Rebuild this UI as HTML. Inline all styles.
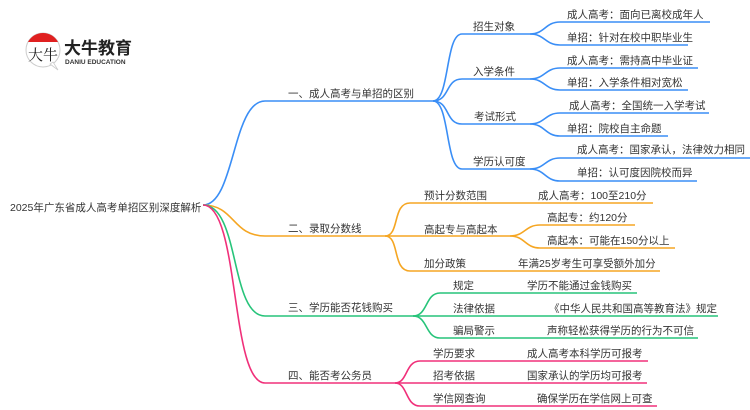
<!DOCTYPE html>
<html><head><meta charset="utf-8"><style>
html,body{margin:0;padding:0;background:#fff;width:750px;height:410px;overflow:hidden}
svg text{font-family:"Liberation Sans","Noto Sans CJK SC",sans-serif;font-size:10.5px;fill:#333}
</style></head><body>
<svg width="750" height="410" viewBox="0 0 750 410" xmlns="http://www.w3.org/2000/svg">
<!-- logo -->
<g>
<circle cx="43" cy="50" r="17" fill="#fff" stroke="#ccc" stroke-width="1"/>
<path d="M28 42 A17 17 0 0 1 58 42 Z" fill="#e02020"/>
<path d="M50 64 L58 70 L53 62 Z" fill="#fff" stroke="#ccc" stroke-width="0.8"/>
<text x="28" y="60" style="font-size:15px;fill:#222;font-family:'Noto Serif CJK SC',serif">大牛</text>
<text x="64" y="54" style="font-size:17px;font-weight:bold;fill:#222">大牛教育</text>
<text x="65" y="64" style="font-size:6.5px;fill:#333;font-weight:bold">DANIU EDUCATION</text>
</g>
<g fill="none" stroke-width="1.6">
<g stroke="#3a8ef6">
<path d="M203 205 C235 205 232 101 265 101 L433 101"/>
<path d="M433 101 C450 101 445 34 462 34 L530 34"/>
<path d="M433 101 C450 101 445 79 462 79 L530 79"/>
<path d="M433 101 C450 101 445 124 462 124 L530 124"/>
<path d="M433 101 C450 101 445 169 462 169 L530 169"/>
<path d="M530 34 C545 34 545 22 560 22 L710 22"/>
<path d="M530 34 C545 34 545 45 560 45 L688 45"/>
<path d="M530 79 C545 79 545 68 560 68 L698 68"/>
<path d="M530 79 C545 79 545 90 560 90 L688 90"/>
<path d="M530 124 C545 124 545 113 560 113 L709 113"/>
<path d="M530 124 C545 124 545 136 560 136 L668 136"/>
<path d="M530 169 C545 169 545 158 560 158 L750 158"/>
<path d="M530 169 C545 169 545 181 560 181 L697 181"/>
</g>
<g stroke="#f5a623">
<path d="M203 205 C235 205 232 236 265 236 L385 236"/>
<path d="M385 236 C400 236 392 203 410 203 L653 203"/>
<path d="M385 236 L510 236"/>
<path d="M385 236 C400 236 392 271 410 271 L660 271"/>
<path d="M510 236 C525 236 525 225 540 225 L635 225"/>
<path d="M510 236 C525 236 525 248 540 248 L675 248"/>
</g>
<g stroke="#27c47a">
<path d="M203 205 C240 205 230 316 265 316 L413 316"/>
<path d="M413 316 C428 316 425 293 440 293 L637 293"/>
<path d="M413 316 L718 316"/>
<path d="M413 316 C428 316 425 338 440 338 L698 338"/>
</g>
<g stroke="#f0307a">
<path d="M203 205 C240 205 230 383 265 383 L395 383"/>
<path d="M395 383 C408 383 405 361 420 361 L648 361"/>
<path d="M395 383 L647 383"/>
<path d="M395 383 C408 383 405 406 420 406 L657 406"/>
</g>
</g>
<text x="10" y="211">2025年广东省成人高考单招区别深度解析</text>
<text x="288" y="97">一、成人高考与单招的区别</text>
<text x="473" y="30">招生对象</text>
<text x="473" y="75">入学条件</text>
<text x="474" y="120">考试形式</text>
<text x="473" y="165">学历认可度</text>
<text x="567" y="18">成人高考：面向已离校成年人</text>
<text x="567" y="41">单招：针对在校中职毕业生</text>
<text x="567" y="64">成人高考：需持高中毕业证</text>
<text x="567" y="86">单招：入学条件相对宽松</text>
<text x="569" y="109">成人高考：全国统一入学考试</text>
<text x="567" y="132">单招：院校自主命题</text>
<text x="577" y="153">成人高考：国家承认，法律效力相同</text>
<text x="577" y="176">单招：认可度因院校而异</text>
<text x="288" y="232">二、录取分数线</text>
<text x="424" y="199">预计分数范围</text>
<text x="538" y="199">成人高考：100至210分</text>
<text x="424" y="233">高起专与高起本</text>
<text x="547" y="221">高起专：约120分</text>
<text x="547" y="244">高起本：可能在150分以上</text>
<text x="424" y="267">加分政策</text>
<text x="518" y="267">年满25岁考生可享受额外加分</text>
<text x="288" y="311">三、学历能否花钱购买</text>
<text x="453" y="289">规定</text>
<text x="527" y="289">学历不能通过金钱购买</text>
<text x="453" y="312">法律依据</text>
<text x="549" y="312">《中华人民共和国高等教育法》规定</text>
<text x="453" y="334">骗局警示</text>
<text x="547" y="334">声称轻松获得学历的行为不可信</text>
<text x="288" y="379">四、能否考公务员</text>
<text x="433" y="357">学历要求</text>
<text x="527" y="357">成人高考本科学历可报考</text>
<text x="433" y="379">招考依据</text>
<text x="527" y="379">国家承认的学历均可报考</text>
<text x="433" y="402">学信网查询</text>
<text x="537" y="402">确保学历在学信网上可查</text>
</svg>
</body></html>
